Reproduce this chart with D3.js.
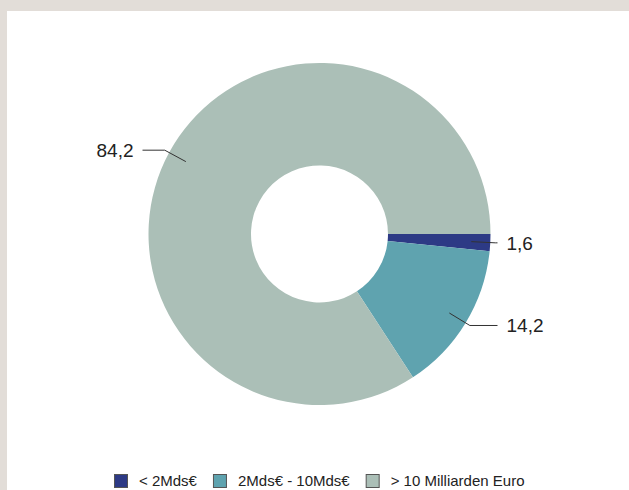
<html>
<head>
    <meta charset="utf-8">
    <script src="https://cdnjs.cloudflare.com/ajax/libs/d3/7.8.5/d3.min.js"></script>
    <style>
        body { margin: 0; background: #ffffff; }
        text { font-family: "Liberation Sans", Arial, sans-serif; fill: #222; }
    </style>
</head>
<body>
    <svg id="CANVAS"></svg>
    <script>

        var W = 629;
        var H = 490;

        // chart data
        var categories = ["< 2Mds€", "2Mds€ - 10Mds€", "> 10 Milliarden Euro"];
        var values = [1.6, 14.2, 84.2];
        var valueLabels = ["1,6", "14,2", "84,2"];
        var colors = ["#2d3a85", "#5fa3af", "#abbfb7"];

        var CX = 319.5, CY = 234;
        var R_OUT = 171, R_IN = 68.5;

        var svg = d3.select("#CANVAS")
            .attr("width", W)
            .attr("height", H);

        svg.append("rect").attr("width", W).attr("height", H).attr("fill", "#e2ddd8");
        svg.append("rect").attr("x", 7).attr("y", 11).attr("width", W - 7).attr("height", H - 11).attr("fill", "#ffffff");

        var pie = d3.pie()
            .sort(null)
            .startAngle(Math.PI / 2)
            .endAngle(Math.PI / 2 + 2 * Math.PI)
            .value(function (d) { return d; });

        var arcs = pie(values);

        var arc = d3.arc().innerRadius(R_IN).outerRadius(R_OUT);
        var inner = d3.arc().innerRadius(152).outerRadius(152);
        var outer = d3.arc().innerRadius(176).outerRadius(176);

        var G = svg.append("g").attr("transform", "translate(" + CX + "," + CY + ")");

        G.selectAll("path.SLICE")
            .data(arcs)
            .enter().append("path")
            .attr("class", "SLICE")
            .attr("d", arc)
            .attr("fill", function (d, i) { return colors[i]; });

        // leader lines + labels
        arcs.forEach(function (d, i) {
            var p1 = inner.centroid(d);
            var p2 = outer.centroid(d);
            var right = p2[0] > 0;
            var xEnd = right ? 178 : -177;
            G.append("polyline")
                .attr("points", [p1, p2, [xEnd, p2[1]]].map(function (p) { return p.join(","); }).join(" "))
                .attr("fill", "none")
                .attr("stroke", "#333")
                .attr("stroke-width", 1);
            G.append("text")
                .attr("x", right ? xEnd + 9 : xEnd - 9)
                .attr("y", p2[1])
                .attr("dy", "0.36em")
                .attr("text-anchor", right ? "start" : "end")
                .style("font-size", "19px")
                .text(valueLabels[i]);
        });

        // legend
        var LY = 481;
        var L = svg.append("g");
        var items = L.selectAll("g.ITEM")
            .data(categories)
            .enter().append("g")
            .attr("class", "ITEM");

        items.append("rect")
            .attr("x", 0.5).attr("y", LY - 6.5)
            .attr("width", 13).attr("height", 13)
            .attr("fill", function (d, i) { return colors[i]; })
            .attr("stroke", "#555")
            .attr("stroke-width", 1);

        items.append("text")
            .attr("x", 25)
            .attr("y", LY)
            .attr("dy", "0.35em")
            .style("font-size", "15px")
            .text(function (d) { return d; });

        var xPos = 0;
        items.each(function () {
            var t = d3.select(this).select("text").node().getComputedTextLength();
            d3.select(this).attr("transform", "translate(" + xPos + ",0)");
            xPos += 25 + t + 16;
        });
        var total = xPos - 16;
        L.attr("transform", "translate(" + Math.round(CX - total / 2) + ",0)");

    </script>
</body>
</html>
